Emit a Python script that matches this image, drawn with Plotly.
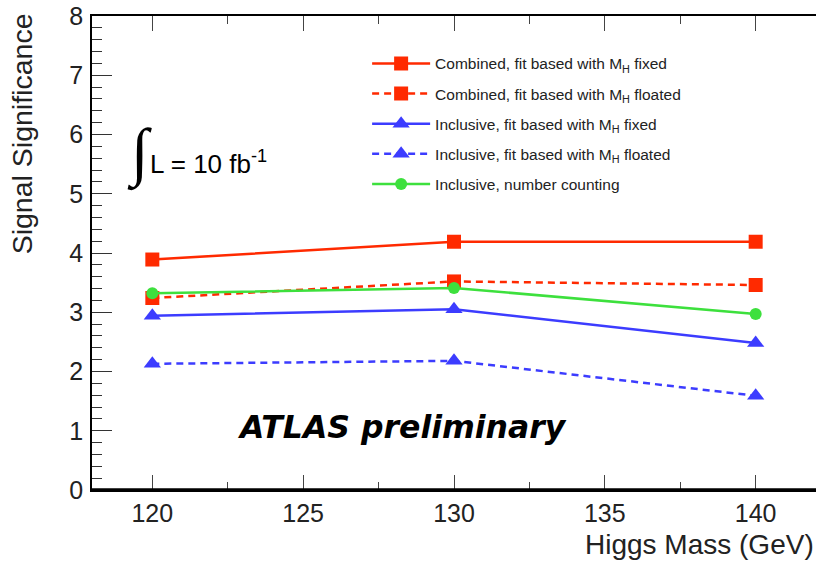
import plotly.graph_objects as go

mass = [120, 130, 140]
comb_fixed = [3.89, 4.19, 4.19]
comb_float = [3.24, 3.52, 3.46]
incl_fixed = [2.94, 3.05, 2.48]
incl_float = [2.13, 2.18, 1.59]
incl_count = [3.32, 3.41, 2.97]

names = [
    "Combined, fit based with M<sub>H</sub> fixed",
    "Combined, fit based with M<sub>H</sub> floated",
    "Inclusive, fit based with M<sub>H</sub> fixed",
    "Inclusive, fit based with M<sub>H</sub> floated",
    "Inclusive, number counting",
]
RED = "#ff2a00"
BLUE = "#3c3cff"
GREEN = "#3de03d"
DASH = "7px,5px"

series = [
    (comb_fixed, RED, "solid", "square", 14),
    (comb_float, RED, DASH, "square", 14),
    (incl_fixed, BLUE, "solid", "triangle-up", 15),
    (incl_float, BLUE, DASH, "triangle-up", 15),
    (incl_count, GREEN, "solid", "circle", 12),
]

fig = go.Figure()
for i, (vals, col, dash, sym, sz) in enumerate(series):
    fig.add_trace(go.Scatter(
        x=mass, y=vals, name=names[i], mode="lines+markers",
        line=dict(color=col, width=2.5, dash=dash),
        marker=dict(color=col, symbol=sym, size=sz, line=dict(width=0)),
        legendgroup=f"g{i}",
    ))

FONT = "Liberation Sans, Arial, sans-serif"
TICKC = "#333"
fig.update_layout(
    width=816, height=561,
    margin=dict(l=92, r=0, t=16, b=71, autoexpand=False),
    paper_bgcolor="white", plot_bgcolor="white",
    font=dict(family=FONT, color="black"),
    showlegend=True,
    legend=dict(
        x=0.380, y=0.935, xanchor="left", yanchor="top",
        bgcolor="rgba(0,0,0,0)", borderwidth=0,
        font=dict(size=15.5, family=FONT, color="#222"),
        itemwidth=58, tracegroupgap=7, traceorder="grouped",
    ),
    xaxis=dict(
        range=[118, 142], tickvals=[120, 125, 130, 135, 140],
        showgrid=False, zeroline=False,
        showline=True, linecolor="black", linewidth=1.5, mirror="ticks",
        ticks="inside", ticklen=15, tickwidth=1, tickcolor="#444",
        minor=dict(dtick=2.5, ticks="inside", ticklen=8, tickcolor="#444", showgrid=False),
        tickfont=dict(size=25, family=FONT, color="#222"),
        ticklabelstandoff=0,
    ),
    yaxis=dict(
        range=[0, 8], dtick=1,
        showgrid=False, zeroline=False,
        showline=True, linecolor="black", linewidth=1.5, mirror=False,
        ticks="inside", ticklen=20, tickwidth=1, tickcolor=TICKC,
        minor=dict(dtick=0.2, ticks="inside", ticklen=10, tickcolor=TICKC, showgrid=False),
        tickfont=dict(size=25, family=FONT, color="#222"),
        ticklabelstandoff=2,
    ),
    yaxis2=dict(
        overlaying="y", side="right", matches="y", range=[0, 8], dtick=1,
        showgrid=False, zeroline=False, showline=False, showticklabels=False,
        ticks="inside", ticklen=20, tickwidth=1, tickcolor=TICKC,
        minor=dict(dtick=0.2, ticks="inside", ticklen=10, tickcolor=TICKC, showgrid=False),
    ),
)

# thicker bottom frame line
fig.add_shape(type="line", xref="paper", yref="paper", x0=0, x1=1, y0=0, y1=0,
              line=dict(color="black", width=3.5))

fig.add_annotation(text="Higgs Mass (GeV)", xref="paper", yref="paper",
                   x=1.0, y=-0.115, xanchor="right", yanchor="middle",
                   showarrow=False, font=dict(size=28, family=FONT, color="#222"))
fig.add_annotation(text="Signal Significance", xref="paper", yref="paper",
                   x=-0.097, y=0.752, xanchor="center", yanchor="middle", textangle=-90,
                   showarrow=False, font=dict(size=28.5, family=FONT, color="#222"))

fig.add_annotation(text="\u222b", xref="paper", yref="paper",
                   x=0.066, y=0.71, xanchor="center", yanchor="middle",
                   showarrow=False, font=dict(size=64, family="Liberation Serif", color="black"))
fig.add_annotation(text="L = 10 fb<sup>-1</sup>", xref="paper", yref="paper",
                   x=0.077, y=0.69, xanchor="left", yanchor="middle",
                   showarrow=False, font=dict(size=26, family=FONT, color="black"))

fig.add_annotation(text="<b><i>ATLAS preliminary</i></b>", xref="paper", yref="paper",
                   x=0.197, y=0.133, xanchor="left", yanchor="middle",
                   showarrow=False, font=dict(size=31.5, family="DejaVu Sans", color="black"))

fig.write_html("out.html")
